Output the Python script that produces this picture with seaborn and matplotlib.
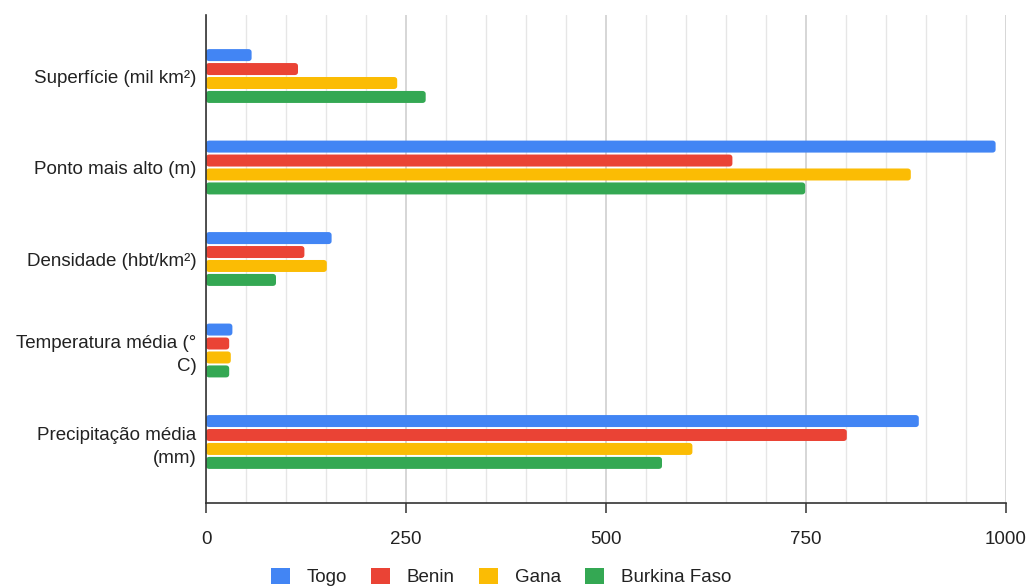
import numpy as np
import pandas as pd
import matplotlib
matplotlib.use("Agg")
import matplotlib.pyplot as plt
from matplotlib.patches import FancyBboxPatch, Patch
from matplotlib.ticker import MultipleLocator
import seaborn as sns

categories = [
    "Superfície (mil km²)",
    "Ponto mais alto (m)",
    "Densidade (hbt/km²)",
    "Temperatura média (°\nC)",
    "Precipitação média\n(mm)",
]
countries = ["Togo", "Benin", "Gana", "Burkina Faso"]
togo = [57, 987, 157, 33, 891]
benin = [115, 658, 123, 29, 801]
gana = [239, 881, 151, 31, 608]
burkina = [274.6, 749, 87.5, 29, 570]
colors = ["#4285F4", "#EA4335", "#FBBC04", "#34A853"]
x_ticks = [0, 250, 500, 750, 1000]

rows = []
for country, vals in zip(countries, [togo, benin, gana, burkina]):
    for cat, v in zip(categories, vals):
        rows.append({"categoria": cat, "país": country, "valor": v})
df = pd.DataFrame(rows)

sns.set_style("white")
plt.rcParams["font.family"] = ["Liberation Sans", "DejaVu Sans"]

fig = plt.figure(figsize=(10.30, 5.87), dpi=100)
ax = fig.add_axes([206 / 1030, 1 - 503 / 587, 800 / 1030, 488 / 587])

sns.barplot(
    data=df, y="categoria", x="valor", hue="país", order=categories,
    hue_order=countries, palette=colors, orient="h", width=0.61, gap=0.14,
    ax=ax, legend=False, saturation=1,
)

# Rounded bar ends
bars = list(ax.patches)
for p in bars:
    x0, y0 = p.get_x(), p.get_y()
    w, h = p.get_width(), p.get_height()
    fc = p.get_facecolor()
    p.remove()
    rb = FancyBboxPatch(
        (x0, y0), w, h,
        boxstyle="round,pad=0,rounding_size=4.0",
        mutation_aspect=0.0085,
        facecolor=fc, edgecolor="none", zorder=2,
    )
    ax.add_patch(rb)

ax.set_xlim(0, 1000)
ax.set_ylim(len(categories) - 1 + 0.667, -0.667)
ax.xaxis.set_minor_locator(MultipleLocator(50))
ax.set_xticks(x_ticks)
ax.grid(axis="x", which="major", color="#cccccc", linewidth=1.1)
ax.grid(axis="x", which="minor", color="#e6e6e6", linewidth=1.0)
ax.grid(axis="y", visible=False)
ax.set_axisbelow(True)

for s in ["top", "right"]:
    ax.spines[s].set_visible(False)
for s in ["left", "bottom"]:
    ax.spines[s].set_color("#333333")
    ax.spines[s].set_linewidth(1.2)

ax.tick_params(axis="x", which="major", bottom=True, direction="out", length=7,
               width=1.1, color="#333333", pad=13, labelsize=13.5,
               labelcolor="#222222")
ax.tick_params(axis="x", which="minor", bottom=False, length=0)
ax.tick_params(axis="y", left=False, length=0, pad=7, labelsize=13.5,
               labelcolor="#222222")
for lab in ax.get_yticklabels():
    lab.set_horizontalalignment("right")
    lab.set_multialignment("right")
    lab.set_linespacing(1.45)

ax.set_xlabel("")
ax.set_ylabel("")

handles = [Patch(facecolor=c, edgecolor="none") for c in colors]
fig.legend(
    handles, countries, loc="center", bbox_to_anchor=(501 / 1030, 1 - 577 / 587),
    ncol=4, frameon=False, fontsize=13.5, handlelength=1.0, handleheight=1.0,
    handletextpad=0.9, columnspacing=1.3, labelcolor="#222222",
)

fig.savefig("out.png", dpi=100)
